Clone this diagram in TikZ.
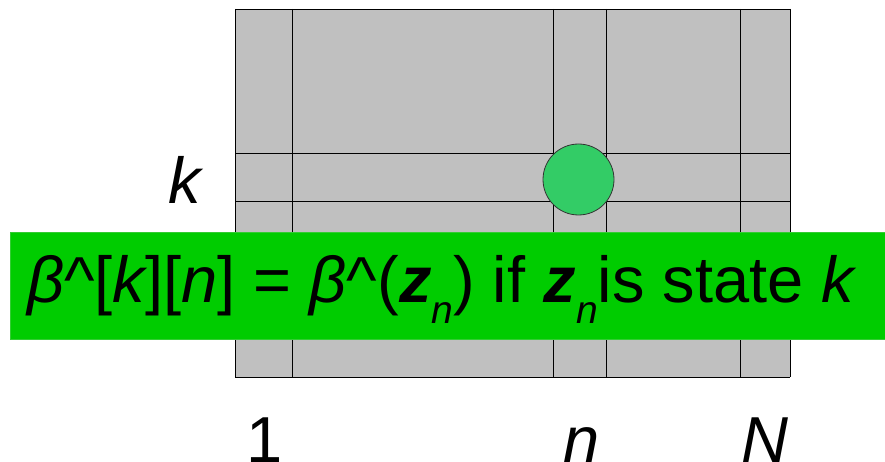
\documentclass[tikz,border=0pt]{standalone}
\usepackage{fontspec}
\setmainfont{Liberation Sans}
\definecolor{cellgray}{HTML}{C0C0C0}
\definecolor{bandgreen}{HTML}{00CC00}
\definecolor{banderge}{HTML}{33CC33}
\definecolor{dotgreen}{HTML}{33CC66}
\newcommand{\bigfont}{\fontsize{65}{78}\selectfont}
\newcommand{\subn}{\raisebox{-21pt}{\fontsize{39}{47}\selectfont\itshape n}}
\begin{document}
\begin{tikzpicture}[x=1pt, y=-1pt, font=\bigfont]
		\useasboundingbox (0,0) rectangle (885,462);

		% --- grey trellis with its grid lines ---
		\fill[cellgray] (235,9) rectangle (790,377);
		\foreach \x in {235,292,553,606,740,790} {
			\draw[black, line width=0.9pt] (\x,9) -- (\x,377);
		}
		\foreach \y in {9,153,201,377} {
			\draw[black, line width=0.9pt] (235,\y) -- (790,\y);
		}

		% --- marked cell at row k, column n ---
		\node[circle, draw=black!80, fill=dotgreen, line width=0.8pt, minimum size=71pt, inner sep=0pt] (dot) at (578.5,179.5) {};

		% --- row and column labels ---
		\node[anchor=base, inner sep=0pt] (klab) at (185,204) {\itshape k};
		\node[anchor=base, inner sep=0pt] (onelab) at (265,462) {1};
		\node[anchor=base, inner sep=0pt] (nlab) at (582,462) {\itshape n};
		\node[anchor=base, inner sep=0pt] (Nlab) at (765,462) {\itshape N};

		% --- green banner with the rule ---
		\fill[bandgreen, draw=banderge, line width=1pt] (10,233) rectangle (886,339);
		\node[anchor=base west, inner sep=0pt] (rule) at (27,302)
			{\itshape β\upshape\^{}[\itshape k\upshape][\itshape n\upshape] = \itshape β\upshape\^{}(\textbf{\itshape z}\subn) if \textbf{\itshape z}\subn is state \itshape k};
	\end{tikzpicture}
\end{document}
